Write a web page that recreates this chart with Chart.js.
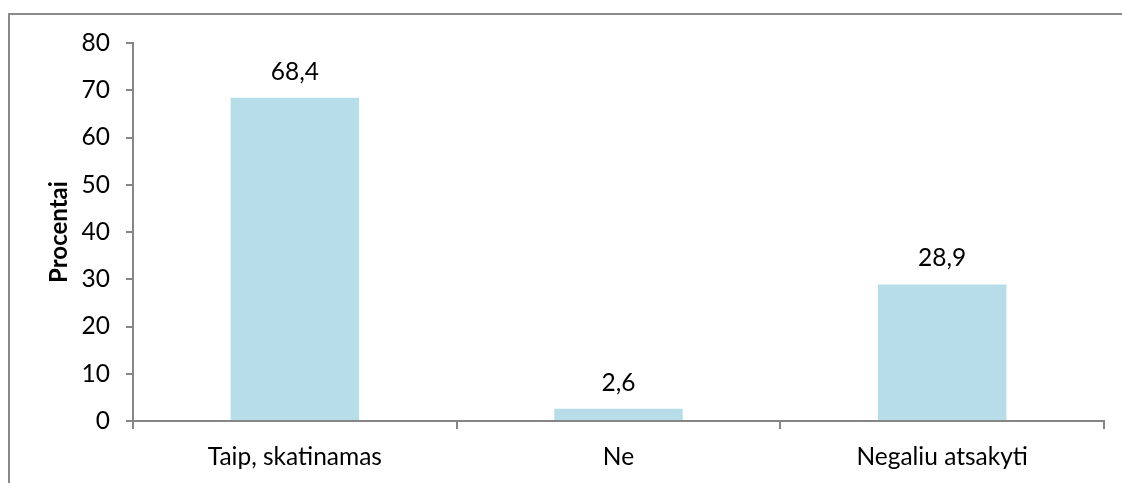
<!DOCTYPE html>
<html>
<head>
<meta charset="utf-8">
<script src="https://cdn.jsdelivr.net/npm/chart.js@4.4.1/dist/chart.umd.min.js"></script>
<style>
  html, body { margin: 0; padding: 0; background: #fff; overflow: hidden; }
  #wrap { position: relative; width: 1122px; height: 483px; }
  #frame {
    position: absolute; left: 8px; top: 13px; width: 1200px; height: 600px;
    border-left: 2px solid #8a8a8a; border-top: 2px solid #8a8a8a;
    box-sizing: border-box; pointer-events: none;
  }
  canvas { position: absolute; left: 0; top: 0; }
</style>
</head>
<body>
<div id="wrap">
  <div id="frame"></div>
  <canvas id="c" width="1122" height="483"></canvas>
</div>
<script>
const categories = ['Taip, skatinamas', 'Ne', 'Negaliu atsakyti'];
const percentValues = [68.4, 2.6, 28.9];
const yTickValues = [0, 10, 20, 30, 40, 50, 60, 70, 80];

const FONT = 'Lato, "Open Sans", sans-serif';
const TEXT_SIZE = 24.5;
const AXIS_GREY = '#868686';

// Writes each bar's value above it, with a decimal comma
const valueLabels = {
  id: 'valueLabels',
  afterDatasetsDraw(chart) {
    const ctx = chart.ctx;
    const meta = chart.getDatasetMeta(0);
    ctx.save();
    ctx.font = TEXT_SIZE + 'px ' + FONT;
    ctx.fillStyle = '#000';
    ctx.textAlign = 'center';
    ctx.textBaseline = 'alphabetic';
    meta.data.forEach((bar, i) => {
      const txt = percentValues[i].toFixed(1).replace('.', ',');
      ctx.fillText(txt, bar.x, bar.y - 18);
    });
    ctx.restore();
  }
};

new Chart(document.getElementById('c'), {
  type: 'bar',
  data: {
    labels: categories,
    datasets: [{
      data: percentValues,
      backgroundColor: '#b7dde8',
      borderWidth: 0,
      barPercentage: 0.397,
      categoryPercentage: 1.0
    }]
  },
  options: {
    responsive: false,
    animation: false,
    events: [],
    layout: { padding: { top: 43, right: 18, bottom: 0, left: 0 } },
    plugins: { legend: { display: false }, tooltip: { enabled: false } },
    scales: {
      x: {
        grid: {
          offset: true,
          drawOnChartArea: false,
          drawTicks: true,
          tickLength: 8,
          color: AXIS_GREY,
          lineWidth: 2
        },
        border: { display: true, color: AXIS_GREY, width: 2 },
        ticks: { color: '#000', font: { family: FONT, size: TEXT_SIZE }, padding: 13, maxRotation: 0 },
        afterFit(scale) { scale.height = 62; }
      },
      y: {
        min: 0,
        max: 80,
        afterBuildTicks(scale) { scale.ticks = yTickValues.map(v => ({ value: v })); },
        grid: {
          drawOnChartArea: false,
          drawTicks: true,
          tickLength: 7,
          color: AXIS_GREY,
          lineWidth: 2
        },
        border: { display: true, color: AXIS_GREY, width: 2 },
        ticks: { color: '#000', font: { family: FONT, size: TEXT_SIZE }, padding: 16 },
        title: {
          display: true,
          text: 'Procentai',
          color: '#000',
          font: { family: FONT, size: 24, weight: 'bold' },
          padding: { top: 45, bottom: 0 }
        },
        afterFit(scale) { scale.width = 133; }
      }
    }
  },
  plugins: [valueLabels]
});
</script>
</body>
</html>
